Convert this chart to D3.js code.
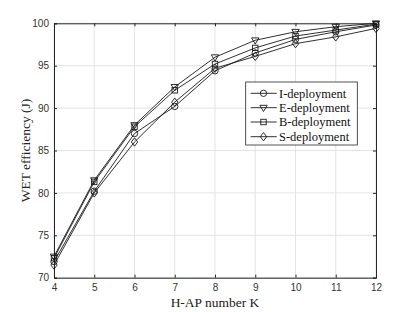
<!DOCTYPE html>
<html><head><meta charset="utf-8">
<script src="https://cdn.jsdelivr.net/npm/d3@7"></script>
<style>body{margin:0;background:#fff}svg{display:block}</style>
</head><body>
<svg id="c" width="415" height="312"></svg>
<script>
const K = [4,5,6,7,8,9,10,11,12];
const iDep = [71.9, 80.2, 87.0, 90.2, 94.4, 96.5, 98.1, 99.0, 99.8];
const eDep = [72.5, 81.5, 88.0, 92.5, 96.0, 98.0, 99.0, 99.6, 100.0];
const bDep = [72.3, 81.3, 87.8, 92.1, 95.2, 97.1, 98.5, 99.2, 99.9];
const sDep = [71.5, 80.0, 86.0, 90.7, 94.7, 96.1, 97.6, 98.4, 99.4];
const seriesNames = ["I-deployment","E-deployment","B-deployment","S-deployment"];
const markers = ["circle","triangle","square","diamond"];
const xTicks = [4,5,6,7,8,9,10,11,12];
const yTicks = [70,75,80,85,90,95,100];
const series = [iDep,eDep,bDep,sDep];

const svg = d3.select("#c");
const L=54, R=376, T=23.3, B=277.7;
const x = d3.scaleLinear().domain([4,12]).range([L,R]);
const y = d3.scaleLinear().domain([70,100]).range([B,T]);
const axisCol = "#262626";

// grid
const g = svg.append("g");
g.selectAll("line.gx").data(xTicks).join("line")
 .attr("x1",d=>x(d)).attr("x2",d=>x(d)).attr("y1",T).attr("y2",B)
 .attr("stroke","#e3e3e3").attr("stroke-width",1);
g.selectAll("line.gy").data(yTicks).join("line")
 .attr("y1",d=>y(d)).attr("y2",d=>y(d)).attr("x1",L).attr("x2",R)
 .attr("stroke","#e3e3e3").attr("stroke-width",1);

// axes
const fontT = "Liberation Sans, Arial, sans-serif";
const xa = svg.append("g").attr("transform",`translate(0,${B})`)
 .call(d3.axisBottom(x).tickValues(xTicks).tickSize(-3).tickPadding(6).tickFormat(d3.format("d")));
const xt = svg.append("g").attr("transform",`translate(0,${T})`)
 .call(d3.axisTop(x).tickValues(xTicks).tickSize(-3).tickFormat(""));
const ya = svg.append("g").attr("transform",`translate(${L},0)`)
 .call(d3.axisLeft(y).tickValues(yTicks).tickSize(-3).tickPadding(5));
const yr = svg.append("g").attr("transform",`translate(${R},0)`)
 .call(d3.axisRight(y).tickValues(yTicks).tickSize(-3).tickFormat(""));
[xa,xt,ya,yr].forEach(a=>{
  a.selectAll("path").attr("stroke",axisCol).attr("stroke-width",1);
  a.selectAll("line").attr("stroke",axisCol);
  a.selectAll("text").attr("fill","#333").style("font-family",fontT).style("font-size","10px");
});

// lines
const line = d3.line().x((d,i)=>x(K[i])).y(d=>y(d));
const lineCol = "#1a1a1a";
function drawMarker(sel, type, cx, cy){
  const s = 3.2;
  if(type==="circle") sel.append("circle").attr("cx",cx).attr("cy",cy).attr("r",s);
  else if(type==="triangle") sel.append("path").attr("d",`M${cx-s*1.15},${cy-s*0.75}L${cx+s*1.15},${cy-s*0.75}L${cx},${cy+s*1.2}Z`);
  else if(type==="square") sel.append("rect").attr("x",cx-s*0.85).attr("y",cy-s*0.85).attr("width",s*1.7).attr("height",s*1.7);
  else sel.append("path").attr("d",`M${cx},${cy-s*1.3}L${cx+s},${cy}L${cx},${cy+s*1.3}L${cx-s},${cy}Z`);
}
series.forEach((vals,si)=>{
  svg.append("path").datum(vals).attr("d",line).attr("fill","none").attr("stroke",lineCol).attr("stroke-width",0.9);
  const mg = svg.append("g").attr("fill","none").attr("stroke",lineCol).attr("stroke-width",0.9);
  vals.forEach((v,i)=>drawMarker(mg, markers[si], x(K[i]), y(v)));
});

// legend
const lg = svg.append("g");
lg.append("rect").attr("x",245.7).attr("y",82).attr("width",111.6).attr("height",63)
 .attr("fill","#fff").attr("stroke",axisCol).attr("stroke-width",0.8);
const rowY = [93.3,107.7,122,136.7];
seriesNames.forEach((n,i)=>{
  lg.append("line").attr("x1",250.7).attr("x2",276.7).attr("y1",rowY[i]).attr("y2",rowY[i])
   .attr("stroke",lineCol).attr("stroke-width",0.9);
  const mg = lg.append("g").attr("fill","none").attr("stroke",lineCol).attr("stroke-width",0.9);
  drawMarker(mg, markers[i], 263.5, rowY[i]);
  lg.append("text").attr("x",279).attr("y",rowY[i]).attr("dy","0.35em")
   .style("font-family","Liberation Serif, Times New Roman, serif").style("font-size","12.5px")
   .attr("fill","#111").text(n);
});

// axis labels
svg.append("text").attr("x",(L+R)/2).attr("y",307).attr("text-anchor","middle")
 .style("font-family","Liberation Serif, Times New Roman, serif").style("font-size","13.5px").attr("fill","#222")
 .text("H-AP number K");
svg.append("text").attr("transform",`translate(30,${(T+B)/2}) rotate(-90)`).attr("text-anchor","middle")
 .style("font-family","Liberation Serif, Times New Roman, serif").style("font-size","13.5px").attr("fill","#222")
 .text("WET efficiency (J)");
</script>
</body></html>
